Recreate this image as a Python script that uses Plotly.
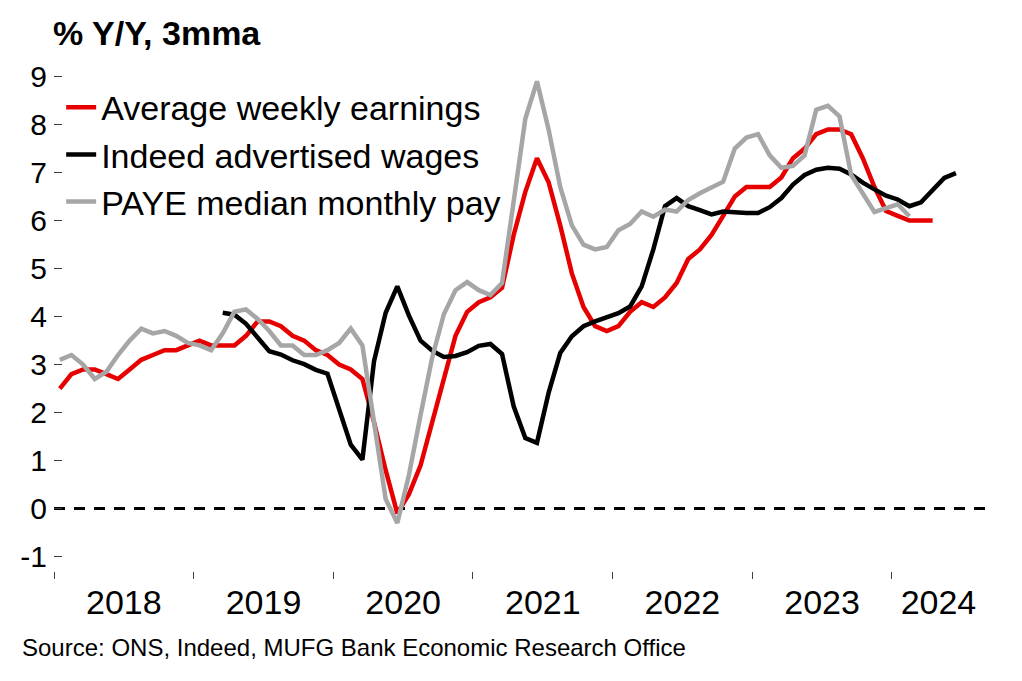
import numpy as np
import pandas as pd
import plotly.graph_objects as go

# ---------------- data ----------------
months = pd.period_range("2018-01", "2024-08", freq="M")
years = ["2018", "2019", "2020", "2021", "2022", "2023", "2024"]
y_ticks = [-1, 0, 1, 2, 3, 4, 5, 6, 7, 8, 9]
y_tick_labels = ["-1", "0", "1", "2", "3", "4", "5", "6", "7", "8", "9"]

# Average weekly earnings, % y/y 3mma (from 2018-01)
awe = [2.5, 2.8, 2.9, 2.9, 2.8, 2.7, 2.9, 3.1, 3.2, 3.3, 3.3, 3.4,
       3.5, 3.4, 3.4, 3.4, 3.6, 3.9, 3.9, 3.8, 3.6, 3.5, 3.3, 3.2,
       3.0, 2.9, 2.7, 1.8, 0.8, -0.1, 0.3, 0.9, 1.8, 2.7, 3.6, 4.1,
       4.3, 4.4, 4.6, 5.7, 6.6, 7.3, 6.8, 5.9, 4.9, 4.2, 3.8, 3.7,
       3.8, 4.1, 4.3, 4.2, 4.4, 4.7, 5.2, 5.4, 5.7, 6.1, 6.5, 6.7,
       6.7, 6.7, 6.9, 7.3, 7.5, 7.8, 7.9, 7.9, 7.8, 7.3, 6.7, 6.2,
       6.1, 6.0, 6.0, 6.0]
awe_start = "2018-01"

# Indeed advertised wages (from 2019-03)
indeed = [4.08, 4.04, 3.85, 3.56, 3.28, 3.21, 3.09, 3.01, 2.89, 2.81,
          2.10, 1.33, 1.02, 3.07, 4.08, 4.63, 4.02, 3.50, 3.29, 3.16,
          3.18, 3.26, 3.39, 3.43, 3.22, 2.13, 1.47, 1.37, 2.41, 3.24,
          3.59, 3.80, 3.90, 3.98, 4.07, 4.21, 4.63, 5.40, 6.30, 6.47,
          6.30, 6.22, 6.13, 6.19, 6.17, 6.16, 6.16, 6.28, 6.47, 6.75,
          6.95, 7.06, 7.10, 7.08, 6.96, 6.79, 6.65, 6.52, 6.44, 6.30,
          6.38, 6.65, 6.89, 6.99]
indeed_start = "2019-03"

# PAYE median monthly pay (from 2018-01)
paye = [3.1, 3.2, 3.0, 2.7, 2.85, 3.2, 3.5, 3.75, 3.65, 3.7, 3.6, 3.45,
        3.4, 3.3, 3.65, 4.1, 4.15, 3.95, 3.7, 3.4, 3.4, 3.2, 3.2, 3.3,
        3.45, 3.75, 3.4, 1.8, 0.2, -0.3, 0.7, 1.95, 3.15, 4.05, 4.55, 4.72,
        4.55, 4.45, 4.7, 6.4, 8.12, 8.9, 7.9, 6.7, 5.9, 5.5, 5.4, 5.45,
        5.8, 5.93, 6.19, 6.08, 6.23, 6.19, 6.43, 6.57, 6.7, 6.81, 7.5, 7.73,
        7.8, 7.36, 7.1, 7.14, 7.36, 8.31, 8.39, 8.17, 6.95, 6.55, 6.18, 6.26,
        6.34, 6.09]
paye_start = "2018-01"

series = [
    ("Average weekly earnings", awe, awe_start, "#E60000"),
    ("Indeed advertised wages", indeed, indeed_start, "#000000"),
    ("PAYE median monthly pay", paye, paye_start, "#A6A6A6"),
]

FONT = "Arial, 'Liberation Sans', sans-serif"

# month index positions (each month occupies one unit, centred on integers)
idx = np.arange(len(months))

fig = go.Figure()
for name, vals, start, color in series:
    s = months.get_loc(pd.Period(start, freq="M"))
    fig.add_trace(go.Scatter(
        x=idx[s:s + len(vals)], y=vals, name=name, mode="lines",
        line=dict(color=color, width=4.5),
        customdata=[str(p) for p in months[s:s + len(vals)]],
        hovertemplate="%{customdata}: %{y}<extra>" + name + "</extra>",
    ))

fig.add_hline(y=0, line=dict(color="black", width=3, dash="11px,9px"), layer="below")

# year label positions: centre of each year's visible span
year_starts = [months.get_loc(pd.Period(y + "-01", freq="M")) for y in years]
year_centres = [min(s + 11, len(months) - 1) / 2 + s / 2 for s in year_starts]
boundaries = [s - 0.5 for s in year_starts]

# page body has an 8px default margin, so the figure is 8px smaller than the window
fig.update_layout(
    width=1014, height=673,
    margin=dict(l=44, r=37, t=59, b=110),
    plot_bgcolor="white", paper_bgcolor="white",
    font=dict(family=FONT, color="black"),
    showlegend=True,
    legend=dict(x=0.0077, y=0.977, xanchor="left", yanchor="top",
                font=dict(size=34, color="black", family=FONT),
                bgcolor="rgba(0,0,0,0)", tracegroupgap=0),
    xaxis=dict(range=[-0.5, len(months) - 0.5], showgrid=False, zeroline=False,
               showline=False, tickmode="array", tickvals=year_centres,
               ticktext=years, ticks="", tickfont=dict(size=34, family=FONT),
               ticklabelstandoff=8,
               minor=dict(tickmode="array", tickvals=boundaries, ticks="outside",
                          ticklen=7, tickwidth=1, tickcolor="#404040", showgrid=False)),
    yaxis=dict(range=[-1.3, 9.2], showgrid=False, zeroline=False, showline=False,
               tickmode="array", tickvals=y_ticks, ticktext=y_tick_labels,
               ticks="inside", ticklen=8, tickwidth=1, tickcolor="#404040",
               tickfont=dict(size=30, family=FONT), ticklabelstandoff=6),
    annotations=[
        dict(text="<b>% Y/Y, 3mma</b>", xref="paper", yref="paper", x=-0.0032, y=1.068,
             xanchor="left", yanchor="middle", showarrow=False,
             font=dict(size=34, family=FONT, color="black")),
        dict(text="Source: ONS, Indeed, MUFG Bank Economic Research Office",
             xref="paper", yref="paper", x=-0.0364, y=-0.152,
             xanchor="left", yanchor="middle", showarrow=False,
             font=dict(size=24, family=FONT, color="black")),
    ],
)

fig.write_html("out.html")
